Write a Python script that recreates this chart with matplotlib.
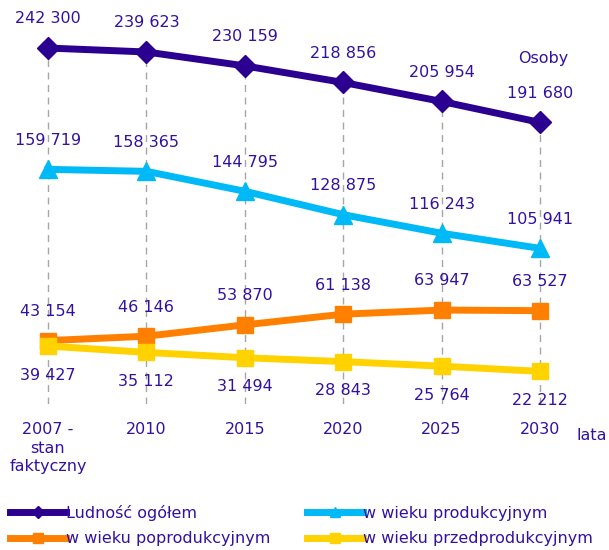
import matplotlib.pyplot as plt
from matplotlib.lines import Line2D

# Data
years = ["2007 -\nstan\nfaktyczny", "2010", "2015", "2020", "2025", "2030"]
ogolem = [242300, 239623, 230159, 218856, 205954, 191680]
produkcyjny = [159719, 158365, 144795, 128875, 116243, 105941]
poprodukcyjny = [43154, 46146, 53870, 61138, 63947, 63527]
przedprodukcyjny = [39427, 35112, 31494, 28843, 25764, 22212]

text_color = "#3311a0"
c_ogolem = "#2b0090"
c_prod = "#00b9f7"
c_poprod = "#ff8000"
c_przed = "#ffd200"

plt.rcParams["font.family"] = ["DejaVu Sans"]
plt.rcParams["font.size"] = 11.5

fig = plt.figure(figsize=(6.09, 5.5), dpi=100)
# axes from top of figure down to y=404 px, full width
ax = fig.add_axes([0, (550 - 404) / 550, 1, 404 / 550])
x = list(range(len(years)))
ax.set_xlim(-48 / 98.4, (609 - 48) / 98.4)
ax.set_ylim(0, 275000)

# drop lines
for xi, v in zip(x, ogolem):
    ax.plot([xi, xi], [0, v], color="#a6a6a6", lw=1, ls=(0, (5, 4)), zorder=1)


def fmt(v):
    return f"{v:,}".replace(",", " ")


series = [
    (ogolem, c_ogolem, "D", 11, "Ludność ogółem", 1),
    (produkcyjny, c_prod, "^", 13, "w wieku produkcyjnym", 1),
    (poprodukcyjny, c_poprod, "s", 12, "w wieku poprodukcyjnym", 1),
    (przedprodukcyjny, c_przed, "s", 12, "w wieku przedprodukcyjnym", -1),
]

handles = {}
for vals, col, mk, ms, name, side in series:
    ax.plot(x, vals, color=col, lw=5, marker=mk, markersize=ms, zorder=3)
    handles[name] = Line2D([], [], color=col, lw=5, marker=mk, markersize=ms * 0.55)
    for xi, v in zip(x, vals):
        ax.annotate(fmt(v), (xi, v), xytext=(0, 21 * side), textcoords="offset points",
                    ha="center", va="center", color=text_color, zorder=5)

ax.set_xticks(x)
ax.set_xticklabels(years, color=text_color, linespacing=1.3)
ax.tick_params(axis="x", length=0, pad=13)
ax.set_yticks([])
for s in ax.spines.values():
    s.set_visible(False)

fig.text(543 / 609, 1 - 58 / 550, "Osoby", color=text_color, ha="center", va="center")
fig.text(592 / 609, 1 - 435 / 550, "lata", color=text_color, ha="center", va="center")

order = ["Ludność ogółem", "w wieku poprodukcyjnym", "w wieku produkcyjnym",
         "w wieku przedprodukcyjnym"]
leg = fig.legend([handles[k] for k in order], order, ncol=2, loc="lower left",
                 bbox_to_anchor=(0.008, -0.002), frameon=False, handlelength=3.5,
                 handletextpad=0.0, columnspacing=2.3, labelspacing=0.65,
                 borderaxespad=0.0, borderpad=0.3)
for t in leg.get_texts():
    t.set_color(text_color)

fig.savefig("out.png", dpi=100)
